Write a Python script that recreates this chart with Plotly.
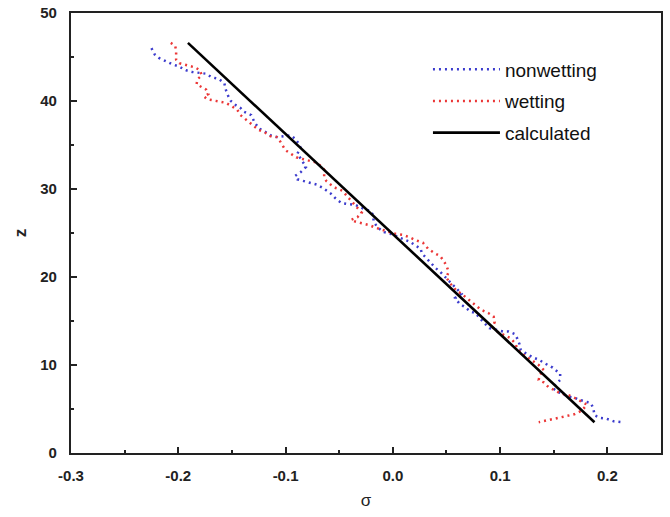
import plotly.graph_objects as go

# nonwetting (blue dotted)
nonwet_sigma = [-0.225, -0.222, -0.218, -0.211, -0.206, -0.199, -0.193, -0.187, -0.181, -0.174,
                -0.169, -0.162, -0.157, -0.156, -0.154, -0.151, -0.146, -0.142, -0.139, -0.132,
                -0.129, -0.125, -0.119, -0.114, -0.108, -0.102, -0.095, -0.091, -0.088, -0.086,
                -0.089, -0.085, -0.081, -0.086, -0.091, -0.089, -0.083, -0.077, -0.071, -0.065,
                -0.058, -0.054, -0.048, -0.042, -0.035, -0.028, -0.021, -0.018, -0.018, -0.014,
                -0.008, -0.002, 0.005, 0.010, 0.016, 0.021, 0.026, 0.027, 0.031, 0.035,
                0.040, 0.044, 0.049, 0.054, 0.059, 0.064, 0.058, 0.062, 0.068, 0.072,
                0.077, 0.081, 0.085, 0.090, 0.097, 0.103, 0.108, 0.114, 0.116, 0.118,
                0.119, 0.123, 0.130, 0.136, 0.143, 0.149, 0.156, 0.156, 0.152, 0.149,
                0.153, 0.158, 0.164, 0.169, 0.175, 0.181, 0.185, 0.187, 0.188, 0.193,
                0.199, 0.206, 0.213]
nonwet_z = [46.0, 45.3, 44.9, 44.5, 44.2, 43.9, 43.5, 43.3, 43.2, 43.1,
            42.7, 42.5, 42.0, 41.4, 40.7, 40.0, 39.5, 39.2, 38.8, 38.4,
            37.6, 36.9, 36.5, 36.1, 35.9, 36.0, 36.1, 35.7, 35.2, 34.7,
            34.0, 33.3, 32.5, 31.9, 31.5, 31.1, 30.9, 30.7, 30.5, 30.1,
            29.5, 29.0, 28.4, 28.3, 28.2, 27.8, 27.5, 27.0, 26.3, 25.6,
            25.1, 24.9, 24.5, 24.3, 24.0, 23.6, 23.2, 22.7, 22.2, 21.6,
            21.0, 20.6, 20.0, 19.3, 18.8, 18.1, 17.6, 17.0, 16.5, 16.1,
            15.9, 15.3, 14.8, 14.2, 14.0, 13.8, 13.8, 13.5, 13.0, 12.4,
            11.8, 11.4, 10.9, 10.6, 10.1, 9.7, 9.0, 8.3, 7.8, 7.4,
            7.0, 6.7, 6.4, 6.3, 6.0, 5.8, 5.6, 5.0, 4.3, 4.0,
            3.9, 3.6, 3.5]

# wetting (red dotted)
wet_sigma = [-0.207, -0.203, -0.202, -0.202, -0.202, -0.199, -0.194, -0.190, -0.184, -0.180,
             -0.178, -0.182, -0.183, -0.179, -0.174, -0.172, -0.176, -0.173, -0.168, -0.162,
             -0.156, -0.150, -0.145, -0.142, -0.138, -0.134, -0.130, -0.125, -0.119, -0.114,
             -0.108, -0.106, -0.103, -0.100, -0.095, -0.090, -0.084, -0.078, -0.071, -0.067,
             -0.064, -0.064, -0.062, -0.058, -0.053, -0.047, -0.042, -0.037, -0.032, -0.029,
             -0.033, -0.039, -0.035, -0.029, -0.022, -0.016, -0.009, -0.003, 0.003, 0.009,
             0.016, 0.021, 0.028, 0.033, 0.039, 0.044, 0.047, 0.050, 0.052, 0.050,
             0.054, 0.059, 0.065, 0.071, 0.077, 0.082, 0.089, 0.094, 0.095, 0.093,
             0.097, 0.104, 0.109, 0.114, 0.116, 0.119, 0.125, 0.131, 0.136, 0.141,
             0.137, 0.136, 0.141, 0.145, 0.150, 0.156, 0.163, 0.169, 0.175, 0.181,
             0.176, 0.169, 0.162, 0.155, 0.148, 0.142, 0.136]
wet_z = [46.6, 46.3, 45.8, 45.2, 44.7, 44.3, 44.1, 44.0, 43.8, 43.5,
         42.9, 42.5, 41.9, 41.6, 41.3, 40.8, 40.5, 40.2, 40.1, 40.0,
         39.8, 39.4, 39.0, 38.4, 38.0, 37.6, 37.2, 36.7, 36.4, 36.0,
         35.9, 35.6, 35.0, 34.4, 34.0, 33.6, 33.4, 33.2, 33.0, 32.6,
         32.2, 31.4, 30.9, 30.5, 30.1, 29.8, 29.1, 28.4, 27.8, 27.3,
         26.8, 26.5, 26.3, 26.1, 25.9, 25.6, 25.3, 25.1, 24.9, 24.8,
         24.5, 24.2, 23.9, 23.2, 22.7, 22.4, 21.9, 21.3, 20.6, 19.9,
         19.2, 18.5, 18.0, 17.4, 16.8, 16.3, 15.9, 15.5, 14.9, 14.3,
         13.8, 13.4, 13.1, 12.5, 11.9, 11.4, 10.9, 10.5, 10.0, 9.4,
         8.9, 8.3, 8.0, 7.5, 7.2, 6.8, 6.6, 6.3, 5.9, 5.5,
         4.8, 4.4, 4.2, 4.0, 3.8, 3.6, 3.5]

# calculated (black solid)
calc_sigma = [-0.191, 0.188]
calc_z = [46.6, 3.5]

x_tickvals = [-0.3, -0.2, -0.1, 0.0, 0.1, 0.2]
x_ticktext = ["-0.3", "-0.2", "-0.1", "0.0", "0.1", "0.2"]
y_tickvals = [0, 10, 20, 30, 40, 50]
y_ticktext = ["0", "10", "20", "30", "40", "50"]

FONT = "Liberation Sans, Arial, sans-serif"

fig = go.Figure()
fig.add_trace(go.Scatter(x=nonwet_sigma, y=nonwet_z, mode="lines", name="nonwetting",
                         line=dict(color="rgb(60,60,205)", width=2.5, dash="2px,4px"),
                         legendgroup="a"))
fig.add_trace(go.Scatter(x=wet_sigma, y=wet_z, mode="lines", name="wetting",
                         line=dict(color="rgb(235,55,55)", width=2.5, dash="2px,4px"),
                         legendgroup="b"))
fig.add_trace(go.Scatter(x=calc_sigma, y=calc_z, mode="lines", name="calculated",
                         line=dict(color="black", width=2.6),
                         legendgroup="c"))

axis_common = dict(
    showgrid=False, zeroline=False, showline=True, linecolor="#222", linewidth=2.2,
    mirror=True, ticks="inside", ticklen=6, tickwidth=2, tickcolor="#222",
    tickfont=dict(family=FONT, size=15, color="#222"), automargin=False,
)

fig.update_layout(
    width=670, height=517,
    margin=dict(l=71, r=9, t=13, b=64),
    paper_bgcolor="white", plot_bgcolor="white",
    showlegend=True,
    legend=dict(x=0.605, y=0.915, xanchor="left", yanchor="top",
                font=dict(family=FONT, size=19, color="#111"),
                bgcolor="rgba(0,0,0,0)", tracegroupgap=4, traceorder="grouped",
                itemwidth=67),
    xaxis=dict(range=[-0.3, 0.25], tickvals=x_tickvals,
               ticktext=["<b>%s</b>" % t for t in x_ticktext],
               ticklabelstandoff=8,
               minor=dict(ticks="inside", ticklen=3, tickwidth=1.5, tickcolor="#222", dtick=0.05,
                          tick0=-0.3, showgrid=False),
               title=dict(text="σ", font=dict(family=FONT, size=17, color="#222"),
                          standoff=11),
               **axis_common),
    yaxis=dict(range=[0, 50], tickvals=y_tickvals,
               ticktext=["<b>%s</b>" % t for t in y_ticktext],
               ticklabelstandoff=9,
               minor=dict(ticks="inside", ticklen=3, tickwidth=1.5, tickcolor="#222", dtick=5,
                          tick0=0, showgrid=False),
               title=dict(text="<b>z</b>", font=dict(family=FONT, size=17, color="#222"),
                          standoff=9),
               **axis_common),
)

fig.write_html("out.html")
